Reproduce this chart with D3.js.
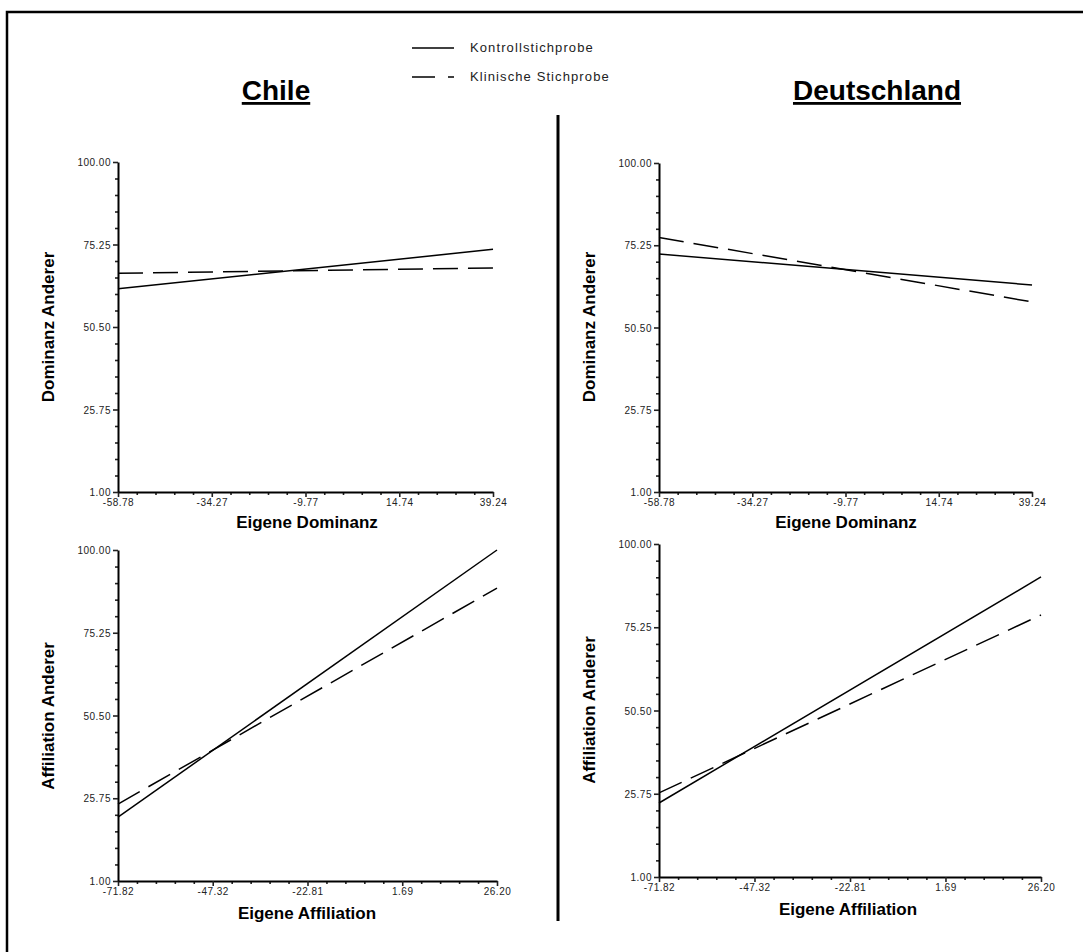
<!DOCTYPE html>
<html>
<head>
<meta charset="utf-8">
<script src="https://cdn.jsdelivr.net/npm/d3@7"></script>
<style>
  body { margin: 0; background: #fff; }
  svg { display: block; font-family: "Liberation Sans", Arial, sans-serif; }
</style>
</head>
<body>
<svg id="viz" width="1083" height="952"></svg>
<script>
// tick labels
const yTicks = [1.0, 25.75, 50.5, 75.25, 100.0];
const domTicks = [-58.78, -34.27, -9.77, 14.74, 39.24];
const affTicks = [-71.82, -47.32, -22.81, 1.69, 26.2];

const groups = ["Kontrollstichprobe", "Klinische Stichprobe"];

// predicted values at the two ends of the x range [low, high]
const chileDomKontroll = [62.0, 73.8];
const chileDomKlinisch = [66.6, 68.2];
const deDomKontroll = [72.6, 63.3];
const deDomKlinisch = [77.6, 58.2];
const chileAffKontroll = [20.1, 100.0];
const chileAffKlinisch = [24.0, 88.6];
const deAffKontroll = [23.0, 90.2];
const deAffKlinisch = [26.0, 78.9];

const svg = d3.select("#viz");
const fmt = (d) => d3.format(".2f")(d).replace("\u2212", "-");

// frame + divider
svg.append("path")
  .attr("d", "M7,960V12H1090")
  .attr("fill", "none")
  .attr("stroke", "#000")
  .attr("stroke-width", 2.5);

svg.append("line")
  .attr("x1", 558).attr("x2", 558)
  .attr("y1", 115).attr("y2", 921)
  .attr("stroke", "#000")
  .attr("stroke-width", 3);

// titles
[["Chile", 276], ["Deutschland", 877]].forEach(([t, cx]) => {
  svg.append("text")
    .attr("x", cx).attr("y", 100)
    .attr("text-anchor", "middle")
    .style("font-size", "28px")
    .style("font-weight", "bold")
    .style("text-decoration", "underline")
    .text(t);
});

// legend
const dash = "25,10";
const legend = svg.append("g");
groups.forEach((g, i) => {
  const y = 48 + i * 29;
  legend.append("line")
    .attr("x1", 412).attr("x2", 454)
    .attr("y1", y).attr("y2", y)
    .attr("stroke", "#000")
    .attr("stroke-width", 1.5)
    .attr("stroke-dasharray", i ? "23,13,6" : null);
  legend.append("text")
    .attr("x", 470).attr("y", y + 4)
    .style("font-size", "13px")
    .style("letter-spacing", "1.1px")
    .style("fill", "#222")
    .text(g);
});

function minorTicks(major) {
  const out = [];
  for (let i = 0; i < major.length - 1; i++) {
    const step = (major[i + 1] - major[i]) / 5;
    for (let k = 1; k < 5; k++) out.push(major[i] + k * step);
  }
  return out;
}

function drawPanel(p) {
  const x = d3.scaleLinear()
    .domain([p.xTicks[0], p.xTicks[p.xTicks.length - 1]])
    .range([p.x0, p.x1]);
  const y = d3.scaleLinear().domain([1, 100]).range([p.y0, p.y1]);

  const g = svg.append("g");

  // minor ticks
  g.append("g")
    .attr("transform", `translate(0,${p.y0})`)
    .call(d3.axisBottom(x).tickValues(minorTicks(p.xTicks)).tickSize(3).tickFormat(""))
    .call((a) => a.select(".domain").remove());
  g.append("g")
    .attr("transform", `translate(${p.x0},0)`)
    .call(d3.axisLeft(y).tickValues(minorTicks(yTicks)).tickSize(3).tickFormat(""))
    .call((a) => a.select(".domain").remove());

  const xa = g.append("g")
    .attr("transform", `translate(0,${p.y0})`)
    .call(d3.axisBottom(x).tickValues(p.xTicks).tickSize(5).tickSizeOuter(0)
      .tickPadding(2).tickFormat(fmt));
  const ya = g.append("g")
    .attr("transform", `translate(${p.x0},0)`)
    .call(d3.axisLeft(y).tickValues(yTicks).tickSize(5).tickSizeOuter(0)
      .tickPadding(2).tickFormat(fmt));

  [xa, ya].forEach((a) => {
    a.select(".domain").attr("stroke-width", 2);
    a.selectAll("text")
      .style("font-size", "10px")
      .style("letter-spacing", "0.5px")
      .style("fill", "#222")
      .style("font-family", "'Liberation Sans', Arial, sans-serif");
  });
  g.selectAll(".tick line").attr("stroke", "#222").attr("stroke-width", 1.6);
  ya.selectAll("text").attr("dy", "0.35em");

  // series lines
  const line = d3.line()
    .x((d, i) => x(i ? p.xTicks[p.xTicks.length - 1] : p.xTicks[0]))
    .y((d) => y(d));
  p.series.forEach((s, i) => {
    g.append("path")
      .datum(s)
      .attr("d", line)
      .attr("fill", "none")
      .attr("stroke", "#000")
      .attr("stroke-width", 1.5)
      .attr("stroke-dasharray", i ? dash : null);
  });

  // axis titles
  svg.append("text")
    .attr("transform", `translate(${p.ylx},${p.yly}) rotate(-90)`)
    .attr("text-anchor", "middle")
    .style("font-size", "17px")
    .style("font-weight", "bold")
    .text(p.ylab);
  svg.append("text")
    .attr("x", p.xlx).attr("y", p.xly)
    .attr("text-anchor", "middle")
    .style("font-size", "17px")
    .style("font-weight", "bold")
    .text(p.xlab);
}

drawPanel({ x0: 118, x1: 493, y0: 492, y1: 162, xTicks: domTicks,
  series: [chileDomKontroll, chileDomKlinisch],
  ylab: "Dominanz Anderer", ylx: 54, yly: 327,
  xlab: "Eigene Dominanz", xlx: 307, xly: 528 });
drawPanel({ x0: 659, x1: 1032, y0: 492, y1: 163, xTicks: domTicks,
  series: [deDomKontroll, deDomKlinisch],
  ylab: "Dominanz Anderer", ylx: 595, yly: 327,
  xlab: "Eigene Dominanz", xlx: 846, xly: 528 });
drawPanel({ x0: 118, x1: 497, y0: 881, y1: 550, xTicks: affTicks,
  series: [chileAffKontroll, chileAffKlinisch],
  ylab: "Affiliation Anderer", ylx: 54, yly: 716,
  xlab: "Eigene Affiliation", xlx: 307, xly: 919 });
drawPanel({ x0: 659, x1: 1041, y0: 877, y1: 544, xTicks: affTicks,
  series: [deAffKontroll, deAffKlinisch],
  ylab: "Affiliation Anderer", ylx: 595, yly: 710,
  xlab: "Eigene Affiliation", xlx: 848, xly: 915 });
</script>
</body>
</html>
